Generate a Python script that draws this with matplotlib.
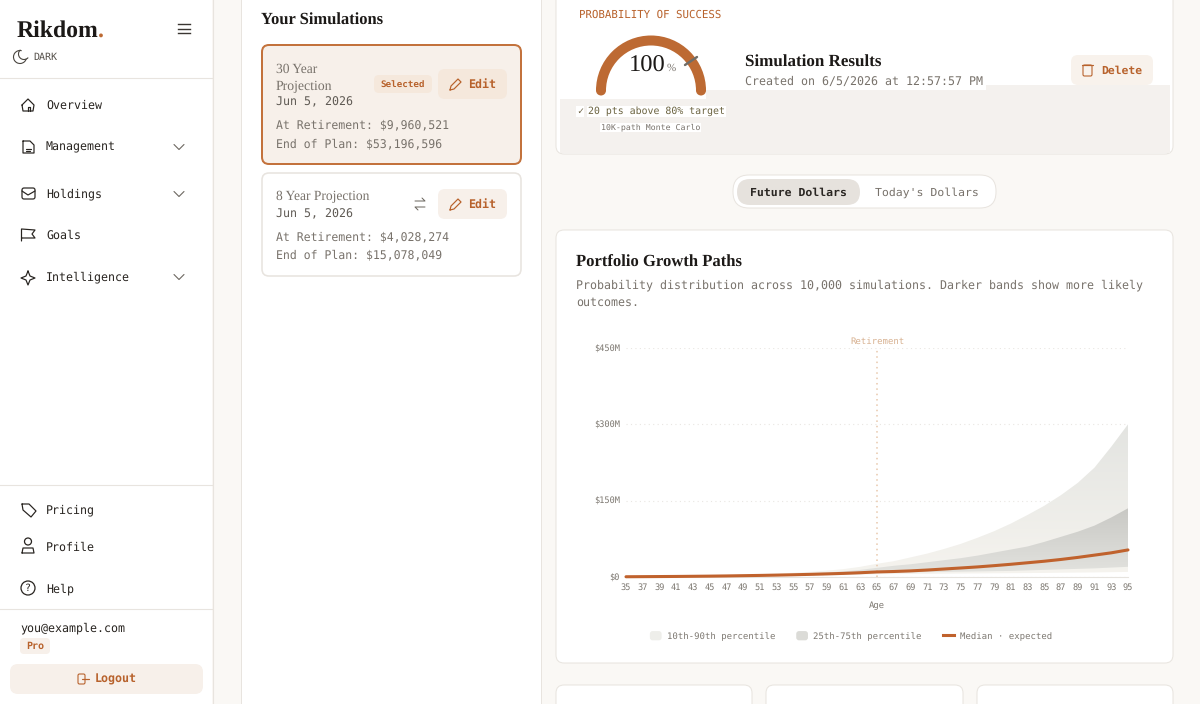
#!/usr/bin/env python
import numpy as np
import matplotlib
matplotlib.use("Agg")
import matplotlib.pyplot as plt
from matplotlib.patches import FancyBboxPatch, Arc, Circle, Patch, Polygon, Rectangle
from matplotlib.lines import Line2D
from matplotlib.colors import to_rgb
from matplotlib.legend_handler import HandlerPatch

# values, in $M
ages = list(range(35, 97, 2))
p90 = [0.6, 0.9, 1.2, 1.6, 2.1, 2.7, 3.4, 4.3, 5.4, 6.7, 8.3, 10.2, 12.5, 15.5, 20, 26,
       31, 38.5, 46, 55, 65, 77, 90, 105, 122, 140, 161, 185, 215, 256, 300]
p75 = [0.55, 0.8, 1.0, 1.3, 1.7, 2.1, 2.6, 3.2, 4.0, 4.9, 6.0, 7.4, 9.0, 11, 14, 18,
       22, 25, 29, 33, 37, 42, 48, 54, 60, 69, 79, 89, 101, 117, 135]
p50 = [0.5, 0.7, 0.9, 1.1, 1.4, 1.7, 2.1, 2.6, 3.1, 3.7, 4.4, 5.2, 6.1, 7.1, 8.4, 9.96,
       10.8, 12, 13.7, 15.7, 17.7, 19.8, 22.3, 25, 28, 31, 34.5, 38.5, 43, 47.5, 53.2]
p25 = [0.45, 0.6, 0.7, 0.9, 1.1, 1.3, 1.6, 1.9, 2.2, 2.6, 3.0, 3.5, 4.0, 4.6, 5.6, 7.5,
       8.5, 9, 9.5, 10, 10.5, 11, 11.5, 12, 13, 14, 15, 16, 17, 18.5, 20]
p10 = [0.4, 0.5, 0.6, 0.7, 0.9, 1.1, 1.3, 1.5, 1.8, 2.1, 2.4, 2.8, 3.2, 3.7, 4.4, 5.5,
       5.8, 6, 6.2, 6.5, 6.8, 7, 7.3, 7.5, 7.8, 8, 8.4, 8.7, 9, 9.5, 10]
y_ticks = [0, 150, 300, 450]
y_labels = ["$0", "$150M", "$300M", "$450M"]
legend_labels = ["10th-90th percentile", "25th-75th percentile", "Median · expected"]
retire_age = 65

nav_top = [("Overview", 105), ("Management", 147), ("Holdings", 194), ("Goals", 235), ("Intelligence", 277)]
nav_bottom = [("Pricing", 510), ("Profile", 547), ("Help", 589)]

MONO = ["DejaVu Sans Mono", "DejaVu Sans"]
SERIF = "Liberation Serif"
RUST = "#bd6a33"
RUST_TXT = "#b8622c"
INK = "#27231f"
GREY = "#78726b"
LINE = "#e8e4df"
PEACH = "#f7f0ea"

plt.rcParams["font.family"] = MONO
plt.rcParams["text.hinting"] = "none"

fig = plt.figure(figsize=(12, 7.04), dpi=100, facecolor="#faf8f5")
bg = fig.add_axes([0, 0, 1, 1])
bg.set_xlim(0, 1200)
bg.set_ylim(704, 0)
bg.axis("off")


def t(x, y, s, px, color=INK, family=MONO, weight="normal", ha="left", **kw):
    # y is the middle of the x-height, px is the font size in pixels
    return bg.text(x, y + 0.33 * px, s, fontsize=px * 0.72, color=color, family=family,
                   weight=weight, ha=ha, va="baseline", **kw)


def box(x0, y0, x1, y1, r=8, fc="white", ec="none", lw=1.0, z=1):
    p = FancyBboxPatch((x0, y0), x1 - x0, y1 - y0, boxstyle=f"round,pad=0,rounding_size={r}",
                       fc=fc, ec=ec, lw=lw * 0.72, zorder=z)
    bg.add_patch(p)


def path(pts, color=INK, lw=1.2, z=5, closed=False):
    xs, ys = zip(*pts)
    if closed:
        xs += xs[:1]
        ys += ys[:1]
    bg.plot(xs, ys, color=color, lw=lw * 0.72, zorder=z, solid_capstyle="round", solid_joinstyle="round")


def chevron(x, y):
    path([(x - 5, y - 2.5), (x, y + 2.5), (x + 5, y - 2.5)], color="#6b665f", lw=1.1)


def pencil(x, y, color=RUST_TXT):
    path([(x - 5, y + 6), (x - 4, y + 2), (x + 3, y - 5), (x + 6, y - 2), (x - 1, y + 5), (x - 5, y + 6)], color=color)


def round_swatch(legend, orig_handle, xdescent, ydescent, width, height, fontsize):
    return FancyBboxPatch((-xdescent, -ydescent), width, height, boxstyle="round,pad=0,rounding_size=2")


# sidebar
bg.add_patch(Rectangle((0, 0), 212, 704, fc="white", ec="none", zorder=0))
bg.plot([212.5, 212.5], [0, 704], color=LINE, lw=0.8, zorder=1)
for yy in [77.5, 484.5, 608.5]:
    bg.plot([0, 212], [yy, yy], color=LINE, lw=0.8, zorder=1)
t(17, 29, "Rikdom", 23.8, color="#1c1917", family=SERIF, weight="bold")
t(97.5, 29, ".", 23.8, color=RUST, family=SERIF, weight="bold")
for yy in [24, 28.5, 33]:
    bg.plot([178, 190], [yy, yy], color="#3a3632", lw=1.0, zorder=5)
bg.add_patch(Arc((20, 57), 13, 13, theta1=15, theta2=285, ec="#4a4640", lw=0.8, zorder=5))
bg.add_patch(Arc((24, 54), 11, 11, theta1=40, theta2=230, ec="#4a4640", lw=0.8, zorder=5))
t(33, 57, "DARK", 10, color="#57524c")

for name, yy in nav_top + nav_bottom:
    t(46, yy, name, 11.6)
for yy in [147, 194, 277]:
    chevron(179, yy)

# nav icons, rough
path([(22, 105), (28, 99), (34, 105), (33, 111), (23, 111), (22, 105)])  # home
path([(28, 111), (28, 107), (30, 107), (30, 111)])
path([(23, 141), (30, 141), (34, 145), (34, 153), (23, 153)], closed=True)  # file
path([(26, 149), (31, 149)])
path([(26, 151), (30, 151)])
box(22, 188, 35, 199, r=2, fc="none", ec=INK, lw=1.2, z=5)  # holdings
path([(22, 191), (28, 195), (35, 191)])
path([(21.5, 241), (21.5, 229), (35, 230), (32, 234), (35, 238), (21.5, 238)])  # flag
path([(28, 271), (30, 276), (35, 278), (30, 280), (28, 285), (26, 280), (21, 278), (26, 276)], closed=True)  # stars
path([(22, 504), (29, 504), (36, 511), (31, 517), (23, 510)], closed=True)  # tag
bg.add_patch(Circle((28, 541.5), 3.5, fc="none", ec=INK, lw=0.9, zorder=5))  # person
path([(22, 553), (23, 548), (33, 548), (34, 553), (22, 553)])
bg.add_patch(Circle((28, 588), 7, fc="none", ec=INK, lw=0.9, zorder=5))  # help
t(28, 588, "?", 10, ha="center")

t(20, 628, "you@example.com", 11.6)
box(20, 638, 50, 654, r=4, fc=PEACH)
t(26, 646, "Pro", 10, color=RUST_TXT, weight="bold")
box(10, 664, 203, 694, r=8, fc=PEACH)
box(78, 674, 85, 684, r=1.5, fc="none", ec=RUST_TXT, lw=1.1, z=5)
path([(82, 679), (89, 679)], color=RUST_TXT)
t(95, 679, "Logout", 11.6, color=RUST_TXT, weight="bold")

# simulations panel
bg.add_patch(Rectangle((241, -5), 300, 720, fc="white", ec=LINE, lw=0.7, zorder=0.5))
t(261, 19, "Your Simulations", 16.5, color="#1c1917", family=SERIF, weight="bold")

box(262, 45, 521, 164, r=7, fc=PEACH, ec="#c3723c", lw=2)
t(276, 68, "30 Year", 13.5, color=GREY, family=SERIF)
t(276, 85, "Projection", 13.7, color=GREY, family=SERIF)
t(276, 101, "Jun 5, 2026", 11.6, color="#5f5a54")
t(276, 124, "At Retirement: $9,960,521", 11.56, color=GREY)
t(276, 143, "End of Plan: $53,196,596", 11.56, color=GREY)
box(374, 75, 432, 93, r=5, fc="#f5e8dc")
t(403, 84, "Selected", 9.3, color=RUST_TXT, weight="bold", ha="center")
box(438, 69, 507, 99, r=7, fc="#f5e8dc")
pencil(455, 84)
t(468, 84, "Edit", 11.6, color=RUST_TXT, weight="bold")

box(262, 173, 521, 276, r=7, fc="white", ec=LINE, lw=1.6)
t(276, 196, "8 Year Projection", 13.5, color=GREY, family=SERIF)
t(276, 213, "Jun 5, 2026", 11.6, color="#5f5a54")
t(276, 236, "At Retirement: $4,028,274", 11.56, color=GREY)
t(276, 254, "End of Plan: $15,078,049", 11.56, color=GREY)
path([(415, 201), (425, 201), (422, 198)], color="#6b665f", lw=1)
path([(425, 207), (415, 207), (418, 210)], color="#6b665f", lw=1)
box(438, 189, 507, 219, r=7, fc=PEACH)
pencil(455, 204)
t(468, 204, "Edit", 11.6, color=RUST_TXT, weight="bold")

# results card
box(556, -20, 1173, 154, r=8, fc="white", ec=LINE, lw=1)
bg.add_patch(Rectangle((560, 85), 610, 68, fc="#f4f1ee", ec="none", zorder=1.5))
bg.add_patch(Rectangle((560, 85), 146, 14, fc="white", ec="none", zorder=1.6))
bg.add_patch(Rectangle((706, 85), 280, 4.5, fc="white", ec="none", zorder=1.6))
t(579, 14, "PROBABILITY OF SUCCESS", 10.8, color=RUST_TXT)
bg.add_patch(Arc((651, 90.5), 100, 100, theta1=180, theta2=360, ec=RUST, lw=7.2, zorder=4))
bg.add_patch(Circle((601, 90.5), 5, fc=RUST, ec="none", zorder=4))
bg.add_patch(Circle((701, 90.5), 5, fc=RUST, ec="none", zorder=4))
path([(685, 65), (697, 57)], color="#6f6d68", lw=2.4)
t(628.5, 64, "100", 24.5, color="#1c1917", family=SERIF)
t(667, 67, "%", 11, color=GREY, family=SERIF)
white_bg = dict(fc="white", ec="none", pad=0.6)
t(577, 111, "✓", 10, color="#6b5f3f", bbox=white_bg, zorder=3)
t(588, 111, "20 pts above 80% target", 9.9, color="#6b6340", bbox=white_bg, zorder=3)
t(601, 127, "10K-path Monte Carlo", 8.3, color=GREY, bbox=white_bg, zorder=3)
t(745, 61, "Simulation Results", 17, color="#1c1917", family=SERIF, weight="bold", zorder=3)
t(745, 81.5, "Created on 6/5/2026 at 12:57:57 PM", 11.63, color=GREY, bbox=white_bg, zorder=3)
box(1071, 55, 1153, 85, r=7, fc="#f8f2ec", z=2)
box(1083, 65, 1092, 76, r=1.5, fc="none", ec=RUST_TXT, lw=1.1, z=5)
path([(1082, 65), (1093, 65)], color=RUST_TXT)
t(1101, 70, "Delete", 11.4, color=RUST_TXT, weight="bold", zorder=3)

# dollar toggle
box(733, 175, 996, 208, r=16, fc="white", ec=LINE, lw=1)
box(737, 179, 860, 205, r=13, fc="#e6e2dd", z=2)
t(749.5, 192, "Future Dollars", 11.5, color="#2a2622", weight="bold", zorder=3)
t(875, 192, "Today's Dollars", 11.5, color=GREY, zorder=3)

# chart card
box(556, 230, 1173, 663, r=8, fc="white", ec=LINE, lw=1)
t(576, 261, "Portfolio Growth Paths", 16.6, color="#1c1917", family=SERIF, weight="bold")
t(576, 285, "Probability distribution across 10,000 simulations. Darker bands show more likely", 11.63, color=GREY)
t(576, 302, "outcomes.", 11.63, color=GREY)

# bottom cards
for x0, x1 in [(556, 752), (766, 963), (977, 1173)]:
    box(x0, 685, x1, 730, r=8, fc="white", ec=LINE, lw=1)

# chart, real axes over the pixel canvas
ax = fig.add_axes([626 / 1200, 1 - 577 / 704, (1128 - 626) / 1200, (577 - 348) / 704], facecolor="none")
ax.set_zorder(2)


def gradient_band(low, high, top_col, bottom_col, ymax):
    band = ax.fill_between(ages, low, high, color="none", lw=0)
    c0, c1 = np.array(to_rgb(top_col)), np.array(to_rgb(bottom_col))
    ramp = np.linspace(0, 1, 256)[:, None, None]
    img = ax.imshow(c0 * (1 - ramp) + c1 * ramp, extent=[ages[0], ages[-1], 0, ymax], aspect="auto", zorder=1)
    poly = Polygon(band.get_paths()[0].vertices, transform=ax.transData)
    img.set_clip_path(poly)


gradient_band(p10, p90, "#e3e4e1", "#f6f4ef", 300)
gradient_band(p25, p75, "#c8c8c4", "#e4e4e0", 135)
ax.plot(ages, p50, color="#c0622d", lw=2.2, zorder=4, clip_on=False, solid_capstyle="round")
ax.axvline(retire_age, color="#e8c8ac", lw=1.1, ls=(0, (1, 2.5)), zorder=3)

ax.set_xlim(35, 95)
ax.set_ylim(0, 450)
ax.set_xticks(ages)
ax.set_yticks(y_ticks)
ax.set_yticklabels(y_labels)
ax.tick_params(axis="both", length=0, labelsize=6.2, labelcolor="#7d7871")
ax.tick_params(axis="x", pad=4.2)
ax.tick_params(axis="y", pad=4.3)
ax.grid(axis="y", color="#e9e6e2", lw=0.8, ls=(0, (1, 3)), zorder=0)
ax.set_axisbelow(True)
for side in ["top", "right", "left"]:
    ax.spines[side].set_visible(False)
ax.spines["bottom"].set_color("#e6e3de")
ax.spines["bottom"].set_linewidth(0.8)
ax.set_xlabel("Age", fontsize=6.4, color="#7d7871", labelpad=6.8)
ax.text(retire_age, 1.03, "Retirement", transform=ax.get_xaxis_transform(), ha="center", va="center",
        fontsize=6.5, color="#d7b08f")

handles = [Patch(fc="#eeeeea", ec="none"), Patch(fc="#dbdbd7", ec="none"),
           Line2D([0], [0], color="#c0622d", lw=2.2)]
ax.legend(handles, legend_labels, loc="center", bbox_to_anchor=(0.448, -0.257), ncols=3, frameon=False,
          fontsize=6.5, labelcolor="#7d7871", handlelength=1.3, handleheight=1.2, handletextpad=0.6,
          columnspacing=2.3, handler_map={Patch: HandlerPatch(patch_func=round_swatch)})

fig.savefig("out.png", dpi=100, facecolor=fig.get_facecolor())
